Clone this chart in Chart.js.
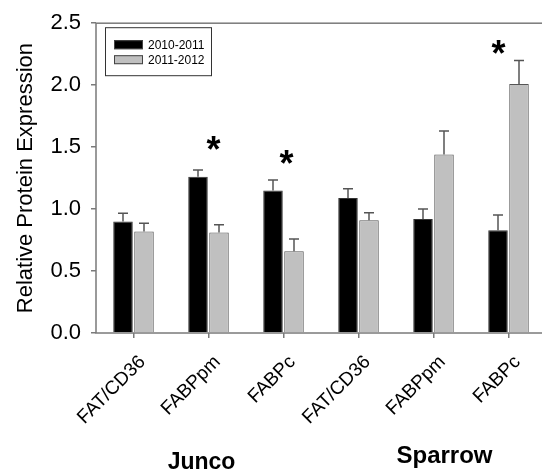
<!DOCTYPE html>
<html>
<head>
<meta charset="utf-8">
<script src="https://cdn.jsdelivr.net/npm/chart.js@4/dist/chart.umd.min.js"></script>
<style>
  html, body { margin: 0; padding: 0; background: #fff; overflow: hidden; }
  canvas { display: block; }
</style>
</head>
<body>
<canvas id="chart" width="546" height="471"></canvas>
<script>
// Data
const categories = ['FAT/CD36', 'FABPpm', 'FABPc', 'FAT/CD36', 'FABPpm', 'FABPc'];
const groups = ['Junco', 'Sparrow'];
const seriesNames = ['2010-2011', '2011-2012'];
const values2010 = [0.90, 1.26, 1.15, 1.09, 0.92, 0.83];
const values2011 = [0.82, 0.81, 0.66, 0.91, 1.44, 2.01];
const err2010 = [0.067, 0.056, 0.084, 0.075, 0.080, 0.123];
const err2011 = [0.065, 0.063, 0.099, 0.061, 0.190, 0.190];
const yTicks = [0, 0.5, 1.0, 1.5, 2.0, 2.5];
// significance marks: category index and height of the star
const starCats = [1, 2, 5];
const starValues = [1.54, 1.43, 2.32];

const FONT = 'Arial, "Liberation Sans", sans-serif';
const frameColor = '#7a7a7a';

// Upper error bars, drawn through the scales
const errorBars = {
    id: 'errorBars',
    afterDatasetsDraw(chart) {
        const ctx = chart.ctx;
        const y = chart.scales.y;
        const errs = [err2010, err2011];
        ctx.save();
        ctx.strokeStyle = '#555';
        ctx.lineWidth = 1.5;
        chart.data.datasets.forEach((ds, di) => {
            chart.getDatasetMeta(di).data.forEach((bar, i) => {
                const top = y.getPixelForValue(ds.data[i] + errs[di][i]);
                ctx.beginPath();
                ctx.moveTo(bar.x, bar.y);
                ctx.lineTo(bar.x, top);
                ctx.moveTo(bar.x - 5, top);
                ctx.lineTo(bar.x + 5, top);
                ctx.stroke();
            });
        });
        ctx.restore();
    }
};

// Frame, legend box, stars and group names
const decorations = {
    id: 'decorations',
    afterDraw(chart) {
        const ctx = chart.ctx;
        const a = chart.chartArea;
        const x = chart.scales.x;
        const y = chart.scales.y;
        ctx.save();

        ctx.strokeStyle = frameColor;
        ctx.lineWidth = 1.5;
        ctx.strokeRect(a.left, a.top, a.right - a.left, a.bottom - a.top);

        // legend
        const lx = a.left + 9, ly = a.top + 4;
        ctx.fillStyle = '#fff';
        ctx.fillRect(lx, ly, 106, 48);
        ctx.strokeStyle = '#333';
        ctx.lineWidth = 1;
        ctx.strokeRect(lx + 0.5, ly + 0.5, 106, 48);
        const swatchColors = ['#000', '#c0c0c0'];
        ctx.font = '12px ' + FONT;
        ctx.textBaseline = 'middle';
        seriesNames.forEach((name, i) => {
            const ry = ly + 17 + i * 15;
            ctx.fillStyle = swatchColors[i];
            ctx.fillRect(lx + 9, ry - 4, 29, 9);
            ctx.strokeStyle = '#444';
            ctx.strokeRect(lx + 9.5, ry - 3.5, 28, 8);
            ctx.fillStyle = '#000';
            ctx.fillText(name, lx + 43, ry + 1);
        });

        // stars
        const starShift = [5, 3, -10];
        ctx.font = 'bold 36px ' + FONT;
        ctx.textAlign = 'center';
        ctx.textBaseline = 'alphabetic';
        starCats.forEach((c, i) => {
            const sx = x.getPixelForValue(c) + starShift[i];
            const sy = y.getPixelForValue(starValues[i]);
            ctx.fillText('*', sx, sy + 20);
        });

        // group names
        ctx.font = 'bold 23px ' + FONT;
        ctx.textBaseline = 'alphabetic';
        ctx.fillText(groups[0], x.getPixelForValue(1) - 7, 469);
        ctx.font = 'bold 24px ' + FONT;
        ctx.fillText(groups[1], x.getPixelForValue(4) + 11, 463);
        ctx.restore();
    }
};

new Chart(document.getElementById('chart'), {
    type: 'bar',
    data: {
        labels: categories,
        datasets: [
            {
                label: seriesNames[0],
                data: values2010,
                backgroundColor: '#000',
                borderColor: '#333',
                borderWidth: 1
            },
            {
                label: seriesNames[1],
                data: values2011,
                backgroundColor: '#c0c0c0',
                borderColor: '#555',
                borderWidth: 1
            }
        ]
    },
    options: {
        responsive: false,
        animation: false,
        devicePixelRatio: 1,
        layout: { padding: { top: 20, right: 0, bottom: 0, left: 0 } },
        categoryPercentage: 0.56,
        barPercentage: 0.93,
        plugins: {
            legend: { display: false },
            tooltip: { enabled: false }
        },
        scales: {
            x: {
                grid: {
                    offset: false,
                    drawOnChartArea: false,
                    drawTicks: true,
                    tickLength: 5,
                    color: frameColor,
                    lineWidth: 1.5
                },
                border: { display: false },
                ticks: {
                    minRotation: 45,
                    maxRotation: 45,
                    color: '#000',
                    font: { family: FONT, size: 19 },
                    padding: 13,
                    labelOffset: 9
                },
                afterFit(scale) { scale.height = 138; }
            },
            y: {
                min: 0,
                max: 2.5,
                afterBuildTicks(scale) {
                    scale.ticks = yTicks.map(v => ({ value: v }));
                },
                grid: {
                    drawOnChartArea: false,
                    drawTicks: true,
                    tickLength: 5,
                    color: frameColor,
                    lineWidth: 1.5
                },
                border: { display: false },
                ticks: {
                    color: '#000',
                    font: { family: FONT, size: 22 },
                    padding: 10,
                    callback: v => Number(v).toFixed(1)
                },
                title: {
                    display: true,
                    text: 'Relative Protein Expression',
                    color: '#000',
                    font: { family: FONT, size: 22 },
                    padding: { top: 13, bottom: 0 }
                },
                afterFit(scale) { scale.width = 96; }
            }
        }
    },
    plugins: [errorBars, decorations]
});
</script>
</body>
</html>
